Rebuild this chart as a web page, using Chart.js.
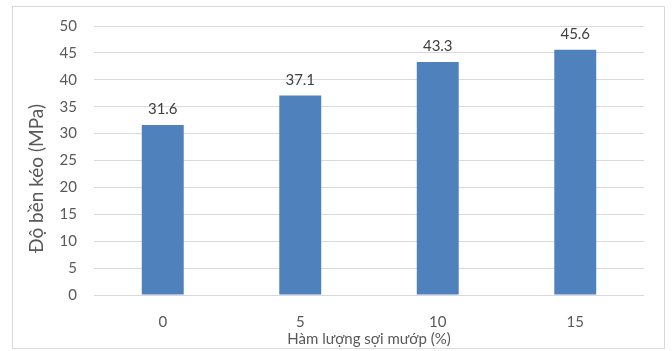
<!DOCTYPE html>
<html>
<head>
<meta charset="utf-8">
<script src="https://cdn.jsdelivr.net/npm/chart.js@4"></script>
<style>
  html, body { margin: 0; padding: 0; background: #ffffff; }
  #wrap { width: 672px; height: 351px; }
</style>
</head>
<body>
<div id="wrap"><canvas id="c" width="672" height="351"></canvas></div>
<script>
// Fibre content (%) and measured tensile strength (MPa)
const categories = ['0', '5', '10', '15'];
const strength = [31.6, 37.1, 43.3, 45.6];
const yTicks = [0, 5, 10, 15, 20, 25, 30, 35, 40, 45, 50];
const yTitle = 'Độ bền kéo (MPa)';

const FONT = 'Lato, "Open Sans", sans-serif';
const TEXT = '#595959';

// Value labels printed above each bar
const valueLabels = {
  id: 'valueLabels',
  afterDatasetsDraw(chart) {
    const ctx = chart.ctx;
    const meta = chart.getDatasetMeta(0);
    ctx.save();
    ctx.font = '15px ' + FONT;
    ctx.fillStyle = '#404040';
    ctx.textAlign = 'center';
    ctx.textBaseline = 'bottom';
    meta.data.forEach((bar, i) => {
      ctx.fillText(strength[i].toFixed(1), bar.x, bar.y - 8);
    });
    ctx.restore();
  }
};

// Light frame around the whole chart, plus the rotated value-axis title
const frame = {
  id: 'frame',
  beforeDraw(chart) {
    const ctx = chart.ctx;
    ctx.save();
    ctx.fillStyle = '#ffffff';
    ctx.fillRect(0, 0, chart.width, chart.height);
    ctx.strokeStyle = '#d9d9d9';
    ctx.lineWidth = 1;
    ctx.strokeRect(12.5, 6.5, 652, 342);
    ctx.restore();
  },
  afterDraw(chart) {
    const ctx = chart.ctx;
    const area = chart.chartArea;
    ctx.save();
    ctx.translate(37, (area.top + area.bottom) / 2 + 18);
    ctx.rotate(-Math.PI / 2);
    ctx.font = '19px ' + FONT;
    ctx.fillStyle = TEXT;
    ctx.textAlign = 'center';
    ctx.textBaseline = 'middle';
    ctx.fillText(yTitle, 0, 0);
    ctx.restore();
  }
};

new Chart(document.getElementById('c'), {
  type: 'bar',
  data: {
    labels: categories,
    datasets: [{
      data: strength,
      backgroundColor: '#4f81bd',
      borderWidth: 0,
      barPercentage: 0.305,
      categoryPercentage: 1.0
    }]
  },
  options: {
    responsive: false,
    animation: false,
    devicePixelRatio: 1,
    layout: { padding: { left: 0, right: 28, top: 23, bottom: 0 } },
    plugins: {
      legend: { display: false },
      tooltip: { enabled: false }
    },
    scales: {
      x: {
        grid: { display: false, drawTicks: false },
        border: { display: false },
        ticks: { color: TEXT, font: { family: FONT, size: 15 }, padding: 18 },
        title: {
          display: true,
          text: 'Hàm lượng sợi mướp (%)',
          color: TEXT,
          font: { family: FONT, size: 15 },
          padding: { top: 0, bottom: 3 }
        },
        afterFit(scale) { scale.height = 56; }
      },
      y: {
        min: 0,
        max: 50,
        afterBuildTicks(scale) { scale.ticks = yTicks.map(v => ({ value: v })); },
        grid: { color: '#d9d9d9', lineWidth: 1, drawTicks: false },
        border: { display: false },
        ticks: { color: TEXT, font: { family: FONT, size: 15 }, padding: 17 },
        afterFit(scale) { scale.width = 94; }
      }
    }
  },
  plugins: [frame, valueLabels]
});
</script>
</body>
</html>
